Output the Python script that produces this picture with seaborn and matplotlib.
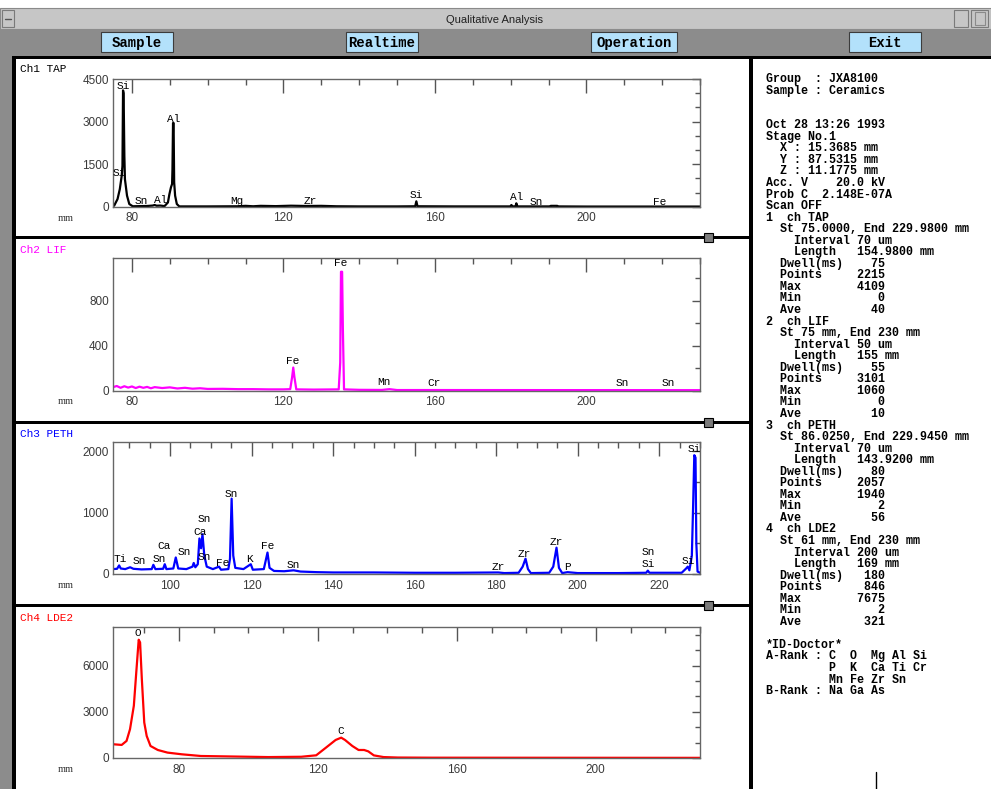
import numpy as np
import pandas as pd
import seaborn as sns
import matplotlib.pyplot as plt
from matplotlib.patches import Rectangle
from matplotlib.ticker import MultipleLocator

# ---- spectra: spectrometer position (mm) vs counts ----
# Ch1 TAP
tap_mm = [75.0, 75.3, 76.2, 76.8, 77.3, 77.5, 77.65, 77.8, 78.0, 78.15, 78.7, 79.3, 80.2,
          82.0, 84.0, 85.5, 86.0, 86.5, 87.5, 88.6, 89.5, 89.9, 90.3, 90.6, 90.7, 90.85,
          91.0, 91.15, 91.4, 91.85, 92.5, 100.0, 108.0, 110.0, 112.0, 114.0, 118.0, 122.0,
          126.0, 130.0, 134.0, 140.0, 150.0, 154.8, 155.1, 155.4, 165.0, 179.9, 180.2,
          180.5, 181.3, 181.5, 181.8, 190.5, 190.6, 192.3, 192.4, 200.0, 230.0]
tap_counts = [40, 35, 270, 620, 1090, 1440, 4100, 4000, 1790, 970, 390, 95, 15,
              20, 25, 40, 60, 35, 40, 20, 150, 445, 680, 800, 1300, 2950,
              2950, 860, 390, 95, 10, 10, 15, 30, 15, 30, 20, 35,
              25, 30, 15, 10, 10, 15, 190, 15, 10, 10, 60,
              10, 15, 120, 10, 10, 30, 30, 10, 5, 5]

# Ch2 LIF
lif_mm = [75, 76, 77, 78, 79, 80, 81, 82, 83, 84, 85, 86, 88, 90, 92, 94, 96, 98, 100,
          104, 108, 112, 116, 120, 121.8, 122.3, 122.6, 122.9, 123.4, 128, 134.6, 135.0,
          135.2, 135.5, 135.7, 136.0, 140, 146, 148, 150, 160, 230]
lif_counts = [30, 40, 24, 38, 26, 36, 22, 34, 24, 32, 20, 30, 22, 28, 18, 24, 16, 20, 14,
              15, 12, 12, 10, 10, 12, 120, 205, 120, 10, 8, 10, 250,
              1060, 1060, 550, 10, 6, 5, 12, 4, 4, 3]

# Ch3 PETH
peth_mm = [86.0, 87.0, 87.5, 87.9, 89.0, 90.2, 91.0, 93.0, 95.5, 95.9, 96.4, 98.3, 98.7,
           99.1, 100.8, 101.4, 102.0, 104.0, 105.5, 105.8, 106.2, 106.8, 107.2, 107.6,
           107.95, 108.4, 109.0, 110.5, 112.0, 112.5, 114.3, 114.7, 115.1, 115.5, 116.0,
           118.0, 119.8, 120.3, 123.0, 123.9, 124.4, 125.5, 128.0, 130.3, 132.0, 136.0,
           140.0, 150.0, 160.0, 170.0, 180.5, 182.0, 185.5, 186.5, 187.2, 187.8, 188.5,
           193.0, 194.0, 194.8, 195.4, 196.2, 197.5, 200.0, 210.0, 216.8, 217.2, 217.6,
           225.5, 226.6, 227.0, 227.4, 228.0, 228.3, 228.6, 228.9, 229.1, 229.4, 230.0]
peth_counts = [80, 85, 140, 90, 80, 110, 85, 75, 80, 150, 80, 85, 160,
               80, 90, 270, 90, 80, 120, 180, 110, 160, 580, 420,
               650, 300, 120, 80, 120, 70, 80, 250, 1230, 300, 100,
               80, 160, 70, 80, 350, 100, 50, 45, 60, 40, 30,
               25, 25, 20, 20, 25, 15, 20, 120, 250, 80, 15,
               20, 120, 430, 100, 15, 30, 15, 15, 20, 55, 20,
               20, 90, 120, 60, 300, 1080, 1940, 1900, 500, 40, 20]

# Ch4 LDE2
lde_mm = [61.0, 63.5, 64.9, 65.9, 67.0, 67.7, 68.4, 68.8, 69.3, 70.0, 70.7, 71.8, 73.9,
          76.7, 80.8, 86.3, 94.6, 105.7, 115.2, 119.5, 122.3, 125.1, 126.7, 127.8, 129.9,
          131.7, 133.3, 134.5, 136.1, 138.9, 143.0, 152.6, 230.0]
lde_counts = [893, 848, 1108, 1870, 3390, 5560, 7675, 7500, 5130, 2300, 1430, 780, 520,
              350, 240, 130, 100, 60, 80, 175, 670, 1170, 1320, 1170, 780,
              520, 520, 430, 170, 60, 30, 20, 10]

# ---- element markers (name, mm, label height in counts) ----
tap_peak_names = ['Si', 'Si', 'Sn', 'Al', 'Al', 'Mg', 'Zr', 'Si', 'Al', 'Sn', 'Fe']
tap_peak_mm = [77.6, 76.7, 82.4, 87.7, 90.9, 107.8, 127.2, 155.2, 181.5, 186.8, 219.4]
tap_peak_counts = [4254, 1195, 211, 246, 3094, 211, 211, 420, 350, 175, 175]

lif_peak_names = ['Fe', 'Fe', 'Mn', 'Cr', 'Sn', 'Sn']
lif_peak_mm = [135.1, 122.3, 146.5, 159.8, 209.5, 221.5]
lif_peak_counts = [1136, 264, 73, 64, 64, 64]

peth_peak_names = ['Ti', 'Sn', 'Sn', 'Ca', 'Sn', 'Ca', 'Sn', 'Sn', 'Fe', 'Sn', 'K', 'Fe',
                   'Sn', 'Zr', 'Zr', 'Zr', 'P', 'Sn', 'Si', 'Si', 'Si']
peth_peak_mm = [87.8, 92.5, 97.4, 98.5, 103.4, 107.3, 108.3, 108.3, 112.9, 115.1, 119.5,
                123.9, 130.3, 180.6, 187.0, 194.7, 197.4, 217.2, 217.2, 227.0, 228.5]
peth_peak_counts = [250, 210, 250, 464, 366, 678, 897, 274, 186, 1312, 246, 464,
                    148, 115, 328, 525, 115, 361, 164, 213, 2034]

lde_peak_names = ['O', 'C']
lde_peak_mm = [68.1, 126.5]
lde_peak_counts = [8085, 1760]

# ---- side panel text ----
info_lines = [
    "Group  : JXA8100",
    "Sample : Ceramics",
    "",
    "",
    "Oct 28 13:26 1993",
    "Stage No.1",
    "  X : 15.3685 mm",
    "  Y : 87.5315 mm",
    "  Z : 11.1775 mm",
    "Acc. V    20.0 kV",
    "Prob C  2.148E-07A",
    "Scan OFF",
    "1  ch TAP",
    "  St 75.0000, End 229.9800 mm",
    "    Interval 70 um",
    "    Length   154.9800 mm",
    "  Dwell(ms)    75",
    "  Points     2215",
    "  Max        4109",
    "  Min           0",
    "  Ave          40",
    "2  ch LIF",
    "  St 75 mm, End 230 mm",
    "    Interval 50 um",
    "    Length   155 mm",
    "  Dwell(ms)    55",
    "  Points     3101",
    "  Max        1060",
    "  Min           0",
    "  Ave          10",
    "3  ch PETH",
    "  St 86.0250, End 229.9450 mm",
    "    Interval 70 um",
    "    Length   143.9200 mm",
    "  Dwell(ms)    80",
    "  Points     2057",
    "  Max        1940",
    "  Min           2",
    "  Ave          56",
    "4  ch LDE2",
    "  St 61 mm, End 230 mm",
    "    Interval 200 um",
    "    Length   169 mm",
    "  Dwell(ms)   180",
    "  Points      846",
    "  Max        7675",
    "  Min           2",
    "  Ave         321",
    "",
    "*ID-Doctor*",
    "A-Rank : C  O  Mg Al Si",
    "         P  K  Ca Ti Cr",
    "         Mn Fe Zr Sn",
    "B-Rank : Na Ga As",
]

buttons = ['Sample', 'Realtime', 'Operation', 'Exit']

sns.set_style('white')
plt.rcParams['font.family'] = ['Liberation Sans', 'DejaVu Sans']
MONO = 'Liberation Mono'

W, H = 991, 789
fig = plt.figure(figsize=(W / 100, H / 100), dpi=100)

# background axes in screen pixels for the window chrome
bg = fig.add_axes([0, 0, 1, 1])
bg.set_xlim(0, W)
bg.set_ylim(H, 0)
bg.axis('off')


def box(x, y, w, h, fc, ec='none', lw=0, z=1):
    bg.add_patch(Rectangle((x, y), w, h, facecolor=fc, edgecolor=ec, linewidth=lw, zorder=z))


# title bar
box(0, 8, W, 21, '#c6c6c6', '#8a8a8a', 0.8)
box(2, 10, 12, 17, '#c6c6c6', '#7a7a7a', 0.8, 2)
bg.plot([5, 11], [18.5, 18.5], color='#555555', lw=1, zorder=3)
box(954, 10, 14, 17, '#c6c6c6', '#7a7a7a', 0.8, 2)
box(971, 10, 17, 17, '#c6c6c6', '#7a7a7a', 0.8, 2)
box(975, 12, 10, 13, 'none', '#8a8a8a', 0.8, 3)
bg.text(494, 19.5, 'Qualitative Analysis', ha='center', va='center', size=8, color='#202020')

# button bar
box(0, 29, W, 27, '#8c8c8c')
button_x = [101, 346, 591, 849]
button_w = [72, 72, 86, 72]
for label, bx, bw in zip(buttons, button_x, button_w):
    box(bx, 32, bw, 20, '#b3e1fb', '#3c3c3c', 0.8, 2)
    bg.text(bx + bw / 2, 42.5, label, ha='center', va='center', family=MONO,
            weight='bold', size=10, color='black', zorder=3)

# frame lines
box(0, 56, 12, H - 56, '#8c8c8c')
box(12, 56, W - 12, 2.5, 'black', z=2)
box(12, 56, 4, H - 56, 'black', z=2)
box(749, 56, 4, H - 56, 'black', z=2)
for sy in [236, 421, 604]:
    box(16, sy, 733, 3, 'black', z=2)
    box(704, sy - 3, 9, 9, '#7c7c7c', 'black', 0.8, 3)
bg.plot([876, 876], [772, H], color='black', lw=1, zorder=3)

# side panel
for i, line in enumerate(info_lines):
    bg.text(766, 79 + i * 11.55, line, ha='left', va='center', family=MONO,
            weight='bold', size=8.4, color='black')

# ---- the four spectra ----
channels = [
    dict(name='Ch1 TAP', color='black', mm=tap_mm, counts=tap_counts,
         names=tap_peak_names, pmm=tap_peak_mm, pcounts=tap_peak_counts,
         box=(113, 79, 700, 206.7), xlim=(75, 230), ylim=(0, 4500),
         xmaj=40, xmin=10, ymaj=1500, ymin=500, title_y=69, mm_y=218),
    dict(name='Ch2 LIF', color='#ff00ff', mm=lif_mm, counts=lif_counts,
         names=lif_peak_names, pmm=lif_peak_mm, pcounts=lif_peak_counts,
         box=(113, 258.3, 700, 390.5), xlim=(75, 230), ylim=(0, 1180),
         xmaj=40, xmin=10, ymaj=400, ymin=200, title_y=250, mm_y=401),
    dict(name='Ch3 PETH', color='#0000ff', mm=peth_mm, counts=peth_counts,
         names=peth_peak_names, pmm=peth_peak_mm, pcounts=peth_peak_counts,
         box=(113, 442.3, 700, 574), xlim=(86, 230), ylim=(0, 2150),
         xmaj=20, xmin=5, ymaj=1000, ymin=500, title_y=434, mm_y=586),
    dict(name='Ch4 LDE2', color='#ff0000', mm=lde_mm, counts=lde_counts,
         names=lde_peak_names, pmm=lde_peak_mm, pcounts=lde_peak_counts,
         box=(113, 627, 700, 758), xlim=(61, 230), ylim=(0, 8500),
         xmaj=40, xmin=10, ymaj=3000, ymin=1000, title_y=618, mm_y=770),
]

for ch in channels:
    x0, y0, x1, y1 = ch['box']
    ax = fig.add_axes([x0 / W, 1 - y1 / H, (x1 - x0) / W, (y1 - y0) / H])
    df = pd.DataFrame({'mm': ch['mm'], 'counts': ch['counts']})
    sns.lineplot(data=df, x='mm', y='counts', ax=ax, color=ch['color'], linewidth=1.6)
    ax.set_xlim(*ch['xlim'])
    ax.set_ylim(*ch['ylim'])
    ax.set_xlabel('')
    ax.set_ylabel('')
    ax.xaxis.set_major_locator(MultipleLocator(ch['xmaj']))
    ax.xaxis.set_minor_locator(MultipleLocator(ch['xmin']))
    ax.yaxis.set_major_locator(MultipleLocator(ch['ymaj']))
    ax.yaxis.set_minor_locator(MultipleLocator(ch['ymin']))
    for sp in ax.spines.values():
        sp.set_color('#666666')
        sp.set_linewidth(1)
    ax.tick_params(which='both', direction='in', top=True, right=True,
                   color='#555555', width=1)
    ax.tick_params(axis='x', which='major', length=10, pad=4, labelsize=8.5,
                   labelcolor='#3a3a3a')
    ax.tick_params(axis='x', which='minor', length=4)
    ax.tick_params(axis='y', which='major', length=6, pad=3, labelsize=8.5,
                   labelcolor='#3a3a3a')
    ax.tick_params(axis='y', which='minor', length=3.5)

    for name, pm, pc in zip(ch['names'], ch['pmm'], ch['pcounts']):
        ax.text(pm, pc, name, ha='center', va='center', family=MONO, size=8,
                color='black', clip_on=False)

    bg.text(20, ch['title_y'], ch['name'], ha='left', va='center', family=MONO,
            size=8, color=ch['color'])
    bg.text(66, ch['mm_y'], 'mm', ha='center', va='center', family='Liberation Serif',
            size=7.5, color='#333333')

fig.savefig('out.png', dpi=100)
